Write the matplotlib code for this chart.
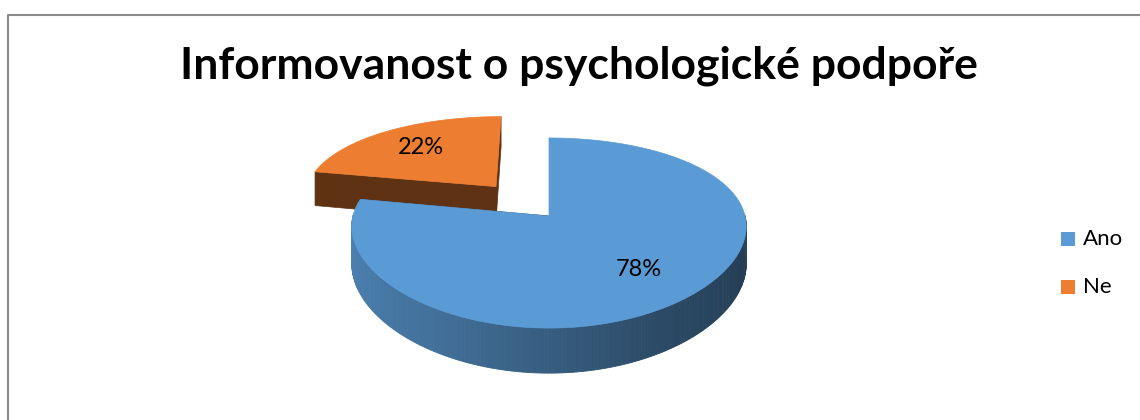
import numpy as np
import matplotlib.pyplot as plt
from matplotlib.patches import Polygon, Rectangle
from matplotlib.colors import to_rgb

labels = ['Ano', 'Ne']
values = [78, 22]
colors = ['#5B9BD5', '#ED7D31']
explode = [0.0, 0.44]
title = 'Informovanost o psychologické podpoře'

W, H = 1140, 420
fig = plt.figure(figsize=(W / 100, H / 100), dpi=100)
ax = fig.add_axes([0, 0, 1, 1])
ax.set_xlim(0, W)
ax.set_ylim(H, 0)
ax.axis('off')

# simple perspective projection of a unit disk (u right, v away from viewer)
cx, cy = 549, 216
a, b, k = 92, 196, 0.179
kx = 0.11  # weaker horizontal foreshortening
depth = 37


def proj(u, v, z=0.0):
    s = 1 + k * v
    sx = 1 + kx * v
    return cx + b * u / sx, cy - a * v / s + depth * z / s


def shade(col, f):
    r, g, bb = to_rgb(col)
    return (r * f, g * f, bb * f)


def wall_factor(t):
    # t in degrees, -180 (left) .. 0 (right)
    return np.interp(t, [-180, -120, -60, -20, 0], [0.86, 0.72, 0.48, 0.40, 0.44])


fracs = np.array(values) / sum(values)
start = 90.0
slices = []
for i, f in enumerate(fracs):
    t1 = start
    t0 = start - 360 * f
    start = t0
    slices.append((t0, t1))

# back slice first
order = [1, 0]
for i in order:
    t0, t1 = slices[i]
    col = colors[i]
    mid = np.radians((t0 + t1) / 2)
    ou, ov = explode[i] * np.cos(mid), explode[i] * np.sin(mid)
    th = np.radians(np.linspace(t0, t1, 300))
    ru = ou + np.cos(th)
    rv = ov + np.sin(th)

    # cut faces
    side_col = shade(col, 0.4) if i == 1 else shade(col, 0.45)
    for t in (t0, t1):
        eu, ev = ou + np.cos(np.radians(t)), ov + np.sin(np.radians(t))
        pts = [proj(ou, ov), proj(eu, ev), proj(eu, ev, 1), proj(ou, ov, 1)]
        ax.add_patch(Polygon(pts, closed=True, fc=side_col, ec=side_col, lw=0.5))

    # outer curved wall (front half only)
    for j in range(len(th) - 1):
        tm = np.degrees((th[j] + th[j + 1]) / 2)
        tm = (tm + 180) % 360 - 180
        if np.sin(np.radians(tm)) >= 0.02:
            continue
        c = shade(col, wall_factor(tm))
        pts = [proj(ru[j], rv[j]), proj(ru[j + 1], rv[j + 1]),
               proj(ru[j + 1], rv[j + 1], 1), proj(ru[j], rv[j], 1)]
        ax.add_patch(Polygon(pts, closed=True, fc=c, ec=c, lw=0.6))

    # top face
    top = [proj(ou, ov)] + [proj(u, v) for u, v in zip(ru, rv)]
    ax.add_patch(Polygon(top, closed=True, fc=col, ec=col, lw=0.5))

    # percentage label
    lu, lv = ou + 0.68 * np.cos(mid), ov + 0.68 * np.sin(mid)
    lx, ly = proj(lu, lv)
    ax.text(lx, ly, f'{values[i]}%', ha='center', va='center',
            fontsize=17, family='Lato', color='black')

ax.text(579, 66, title, ha='center', va='center', fontsize=32,
        fontweight='bold', family='Lato')

# legend
for i, lab in enumerate(labels):
    y = 239 + 48 * i
    ax.add_patch(Rectangle((1061, y - 7), 14, 14, fc=colors[i], ec='none'))
    ax.text(1083, y, lab, ha='left', va='center', fontsize=16, family='Lato')

# chart border
ax.plot([8, 8, W], [H, 15, 15], color='#8a8a8a', lw=1.5, solid_capstyle='butt')

fig.savefig('out.png', dpi=100)
